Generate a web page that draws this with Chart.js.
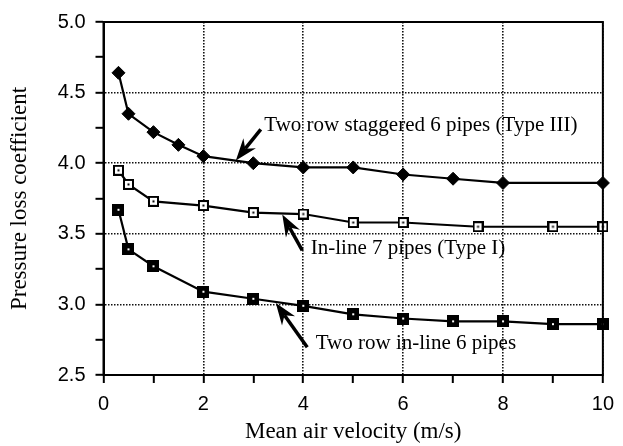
<!DOCTYPE html>
<html><head><meta charset="utf-8">
<script src="https://cdn.jsdelivr.net/npm/chart.js@4/dist/chart.umd.min.js"></script>
<style>html,body{margin:0;padding:0;background:#fff}#wrap{width:623px;height:446px}</style>
</head><body><div id="wrap"><canvas id="c" width="623" height="446"></canvas></div>
<script>
// Data
const velTypeIII = [0.3, 0.5, 1, 1.5, 2, 3, 4, 5, 6, 7, 8, 10];
const coefTypeIII = [4.64, 4.35, 4.22, 4.13, 4.05, 4.00, 3.97, 3.97, 3.92, 3.89, 3.86, 3.86];
const velTypeI = [0.3, 0.5, 1, 2, 3, 4, 5, 6, 7.5, 9, 10];
const coefTypeI = [3.95, 3.85, 3.73, 3.70, 3.65, 3.64, 3.58, 3.58, 3.55, 3.55, 3.55];
const velInline6 = [0.3, 0.5, 1, 2, 3, 4, 5, 6, 7, 8, 9, 10];
const coefInline6 = [3.67, 3.39, 3.27, 3.09, 3.04, 2.99, 2.93, 2.90, 2.88, 2.88, 2.86, 2.86];
const seriesNames = ["Two row staggered 6 pipes (Type III)", "In-line 7 pipes (Type I)", "Two row in-line 6 pipes"];
// annotation label anchors (data coords): text start x, text center y, arrow tail x,y, arrow tip x,y
const noteTextX = [3.22, 4.15, 4.25];
const noteTextY = [4.264, 3.393, 2.721];
const arrowTailX = [3.15, 3.98, 4.08];
const arrowTailY = [4.24, 3.382, 2.697];
const arrowTipX = [2.65, 3.58, 3.45];
const arrowTipY = [4.02, 3.637, 3.01];
const xTitle = "Mean air velocity (m/s)";
const yTitle = "Pressure loss coefficient";

function pts(xs, ys){ return xs.map((x,i)=>({x:x, y:ys[i]})); }

function mkOpenSquare(){
  const c=document.createElement('canvas'); c.width=11; c.height=11;
  const g=c.getContext('2d'); g.fillStyle='#fff'; g.fillRect(0,0,11,11);
  g.strokeStyle='#000'; g.lineWidth=2; g.strokeRect(1,1,9,9);
  g.fillStyle='#000'; g.fillRect(4.5,4.5,2,2); return c;
}
function mkFilledSquare(){
  const c=document.createElement('canvas'); c.width=12; c.height=12;
  const g=c.getContext('2d'); g.fillStyle='#000'; g.fillRect(0,0,12,12);
  g.fillStyle='#fff'; g.fillRect(5,5,2,2); return c;
}

const framePlugin = {
  id:'frame',
  afterDatasetsDraw(chart){
    const {ctx, chartArea:a} = chart;
    ctx.save(); ctx.strokeStyle='#000'; ctx.lineWidth=2;
    ctx.strokeRect(a.left, a.top, a.right-a.left, a.bottom-a.top);
    ctx.restore();
  }
};
const notePlugin = {
  id:'notes',
  afterDraw(chart){
    const ctx=chart.ctx, xs=chart.scales.x, ys=chart.scales.y;
    ctx.save();
    ctx.fillStyle='#000'; ctx.strokeStyle='#000';
    ctx.font='21px "Liberation Serif", "Times New Roman", serif';
    ctx.textBaseline='middle'; ctx.textAlign='left';
    for(let i=0;i<seriesNames.length;i++){
      ctx.fillText(seriesNames[i], xs.getPixelForValue(noteTextX[i]), ys.getPixelForValue(noteTextY[i]));
      const x0=xs.getPixelForValue(arrowTailX[i]), y0=ys.getPixelForValue(arrowTailY[i]);
      const x1=xs.getPixelForValue(arrowTipX[i]), y1=ys.getPixelForValue(arrowTipY[i]);
      const ang=Math.atan2(y1-y0,x1-x0);
      const L=22, W=8, N=15;
      ctx.lineWidth=3.5;
      ctx.beginPath(); ctx.moveTo(x0,y0);
      ctx.lineTo(x1-Math.cos(ang)*N, y1-Math.sin(ang)*N); ctx.stroke();
      ctx.beginPath();
      ctx.moveTo(x1,y1);
      ctx.lineTo(x1-Math.cos(ang)*L+Math.sin(ang)*W, y1-Math.sin(ang)*L-Math.cos(ang)*W);
      ctx.lineTo(x1-Math.cos(ang)*N, y1-Math.sin(ang)*N);
      ctx.lineTo(x1-Math.cos(ang)*L-Math.sin(ang)*W, y1-Math.sin(ang)*L+Math.cos(ang)*W);
      ctx.closePath(); ctx.fill();
    }
    ctx.restore();
  }
};

const serifTitle = {family:'"Liberation Serif", "Times New Roman", serif', size:23};
const tickFont = {family:'"Liberation Sans", Arial, Helvetica, sans-serif', size:20};
const isMajorX = v => Math.abs(v/2 - Math.round(v/2)) < 1e-6;
const isMajorY = v => Math.abs(v/0.5 - Math.round(v/0.5)) < 1e-6;

new Chart(document.getElementById('c'), {
  type:'scatter',
  data:{datasets:[
    {label:seriesNames[0], data:pts(velTypeIII, coefTypeIII), showLine:true, borderColor:'#000', borderWidth:2.2,
     pointStyle:'rectRot', pointRadius:6.5, pointBackgroundColor:'#000', pointBorderColor:'#000', pointBorderWidth:1, clip:false},
    {label:seriesNames[1], data:pts(velTypeI, coefTypeI), showLine:true, borderColor:'#000', borderWidth:2.2,
     pointStyle:mkOpenSquare(), pointRadius:6, clip:false},
    {label:seriesNames[2], data:pts(velInline6, coefInline6), showLine:true, borderColor:'#000', borderWidth:2.2,
     pointStyle:mkFilledSquare(), pointRadius:6, clip:false}
  ]},
  options:{
    responsive:false, animation:false, devicePixelRatio:1,
    layout:{padding:{top:16, right:17, left:0, bottom:0}},
    plugins:{legend:{display:false}, tooltip:{enabled:false}},
    elements:{line:{tension:0}},
    scales:{
      x:{type:'linear', min:0, max:10,
        ticks:{stepSize:1, autoSkip:false, maxRotation:0, color:'#000', font:tickFont, padding:9,
          callback:v=> isMajorX(v) ? String(v) : ''},
        grid:{color:c=> (isMajorX(c.tick.value) ? '#111' : 'rgba(0,0,0,0)'), lineWidth:1.6, tickColor:'#000', tickLength:8, tickWidth:2},
        border:{color:'#000', width:2, dash:[1.5,1.5]},
        title:{display:true, text:xTitle, color:'#000', font:serifTitle, padding:{top:0,bottom:0}},
        afterFit:s=>{s.height=71;}
      },
      y:{type:'linear', min:2.5, max:5,
        ticks:{stepSize:0.25, autoSkip:false, color:'#000', font:tickFont, padding:10,
          callback:v=> isMajorY(v) ? v.toFixed(1) : ''},
        grid:{color:c=> (isMajorY(c.tick.value) ? '#111' : 'rgba(0,0,0,0)'), lineWidth:1.6, tickColor:'#000', tickLength:8, tickWidth:2},
        border:{color:'#000', width:2, dash:[1.5,1.5]},
        title:{display:true, text:yTitle, color:'#000', font:serifTitle, padding:{top:6,bottom:0}},
        afterFit:s=>{s.width=103.5;}
      }
    }
  },
  plugins:[framePlugin, notePlugin]
});
</script>
</body></html>
